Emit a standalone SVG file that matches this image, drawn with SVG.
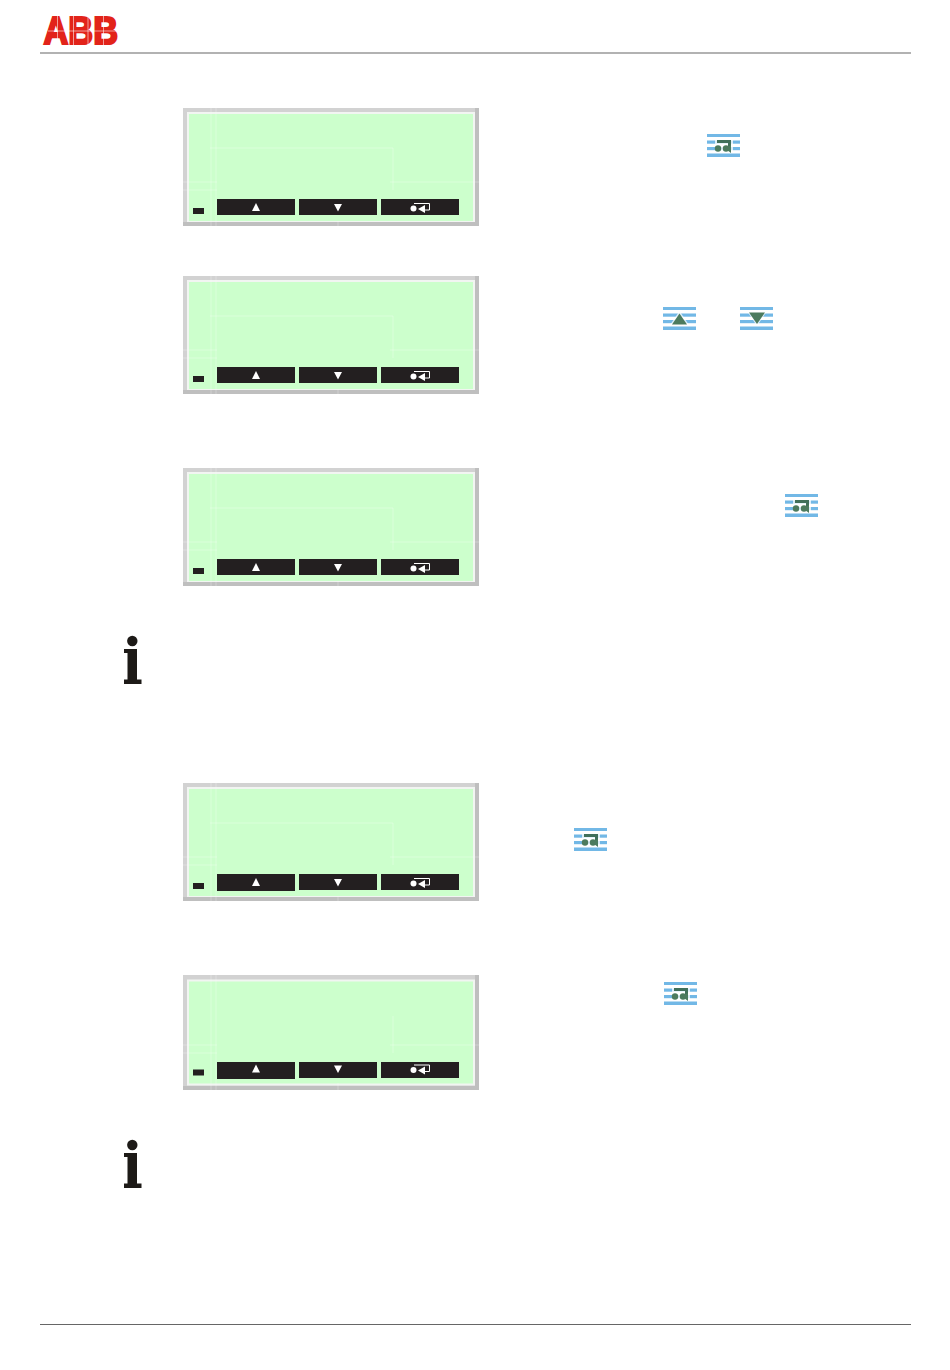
<svg xmlns="http://www.w3.org/2000/svg" width="950" height="1370" viewBox="0 0 950 1370">
<style>
.frame{fill:#d2d2d2}
.frame2{fill:#bfbfbf}
.bezel{fill:#f2f5f2}
.lcd{fill:#ccffcc}
.btn{fill:#231f20}
.glyph{fill:#fff}
.glyphline{fill:none;stroke:#fff;stroke-width:1}
.faint{stroke:#fff;stroke-width:.7;stroke-opacity:.4;fill:none}
.rule{stroke:#666;stroke-width:1.2;fill:none}
.stripe{fill:#72b8e6}
.halo{fill:#fff;fill-opacity:.75}
.ico{fill:#4c7b5e}
.icoline{fill:none;stroke:#41705a;stroke-width:3}
.info{fill:#1d1a17}
.logo{fill:#e2231a;stroke:#e2231a;stroke-width:2.2;font-family:"Liberation Sans",Arial,sans-serif;font-weight:700;font-size:39.500px}
.logocut{stroke:#fff;stroke-width:.7;stroke-opacity:.8;fill:none}
</style>
<defs>
<g id="lcd-glyphs">
<polygon class="glyph" points="252,211 256,203 260,211"/>
<polygon class="glyph" points="334,204 342,204 338,211.500"/>
<circle class="glyph" cx="413.500" cy="208.500" r="3"/>
<polygon class="glyph" points="418,209 425,205 425,213"/>
<path class="glyphline" d="M414,203.500H429.500V210H424"/>
<rect class="btn" x="193" y="208" width="11" height="6"/>
</g>
<g id="lcd">
<rect class="frame" x="183" y="108" width="296" height="118"/>
<path class="frame2" d="M475,108H479V226H183V222H475Z"/>
<rect class="bezel" x="187" y="112" width="288" height="110"/>
<rect class="lcd" x="189" y="114" width="284" height="107"/>
<path class="faint" d="M211,108V226M216,108V226M175,182H217M175,190H217M210,148H393M393,148V190M390,182H479M338,221V226"/>
<rect class="btn" x="217" y="199" width="78" height="16"/>
<rect class="btn" x="299" y="199" width="78" height="16"/>
<rect class="btn" x="381" y="199" width="78" height="16"/>
<use href="#lcd-glyphs"/>
</g>
<g id="stripes">
<rect class="stripe" x="0" y="0" width="33" height="3"/>
<rect class="stripe" x="0" y="6.500" width="33" height="3.200"/>
<rect class="stripe" x="0" y="13" width="33" height="3.200"/>
<rect class="stripe" x="0" y="19.500" width="33" height="3.500"/>
</g>
<g id="icon-enter">
<use href="#stripes"/>
<rect class="halo" x="8" y="3" width="18" height="16"/>
<path class="icoline" d="M10,7.500H22.500V15"/>
<circle class="ico" cx="11" cy="14.500" r="3.200"/>
<circle class="ico" cx="19" cy="14.500" r="3.200"/>
<polygon class="ico" points="18,14.500 24,11 24,19"/>
</g>
<g id="icon-up">
<use href="#stripes"/>
<polygon class="halo" points="7,18 16.500,4 26,18"/>
<polygon class="ico" points="9,17.500 16.500,6.500 24,17.500"/>
</g>
<g id="icon-down">
<use href="#stripes"/>
<polygon class="halo" points="7,4 17,19 27,4"/>
<polygon class="ico" points="9,5.500 25,5.500 17,17"/>
</g>
<g id="icon-info">
<circle class="info" cx="132.300" cy="641" r="5.200"/>
<path class="info" d="M124,649H137V679.500H141.500V684H124V679.500H127.500V653H124Z"/>
</g>
</defs>
<g id="header">
<text class="logo" x="43.500" y="44" textLength="74.500" lengthAdjust="spacingAndGlyphs">ABB</text>
<path class="logocut" d="M48,31H119M57.500,15V45M73.500,15V45M88,15V45M103.500,15V45"/>
<path class="rule" d="M40,53H911"/>
</g>
<g id="panel-1"><use href="#lcd"/></g>
<g id="panel-2" transform="translate(0 168)"><use href="#lcd"/></g>
<g id="panel-3" transform="translate(0 360)"><use href="#lcd"/></g>
<g id="panel-4" transform="translate(0 675)"><use href="#lcd"/><rect class="btn" x="217" y="214" width="78" height="2"/></g>
<g id="panel-5">
<rect class="frame" x="183" y="975" width="296" height="115"/>
<path class="frame2" d="M475,975H479V1090H183V1086H475Z"/>
<rect class="bezel" x="187" y="979.500" width="288" height="106"/>
<rect class="lcd" x="189" y="981.500" width="284" height="102"/>
<path class="faint" d="M211,975V1090M216,975V1090M175,1045H217M175,1053H217M393,1016V1053M390,1045H479M338,1083V1090"/>
<rect class="btn" x="217" y="1062" width="78" height="17"/>
<rect class="btn" x="299" y="1062" width="78" height="16"/>
<rect class="btn" x="381" y="1062" width="78" height="16"/>
<use href="#lcd-glyphs" transform="translate(0 861.500)"/>
</g>
<g id="icon-1" transform="translate(707 134)"><use href="#icon-enter"/></g>
<g id="icon-2" transform="translate(663 307)"><use href="#icon-up"/></g>
<g id="icon-3" transform="translate(740 307)"><use href="#icon-down"/></g>
<g id="icon-4" transform="translate(785 494)"><use href="#icon-enter"/></g>
<g id="icon-5" transform="translate(574 828)"><use href="#icon-enter"/></g>
<g id="icon-6" transform="translate(664 982)"><use href="#icon-enter"/></g>
<g id="info-1"><use href="#icon-info"/></g>
<g id="info-2" transform="translate(0 504)"><use href="#icon-info"/></g>
<g id="footer"><path class="rule" d="M40,1324.500H911"/></g>
</svg>
